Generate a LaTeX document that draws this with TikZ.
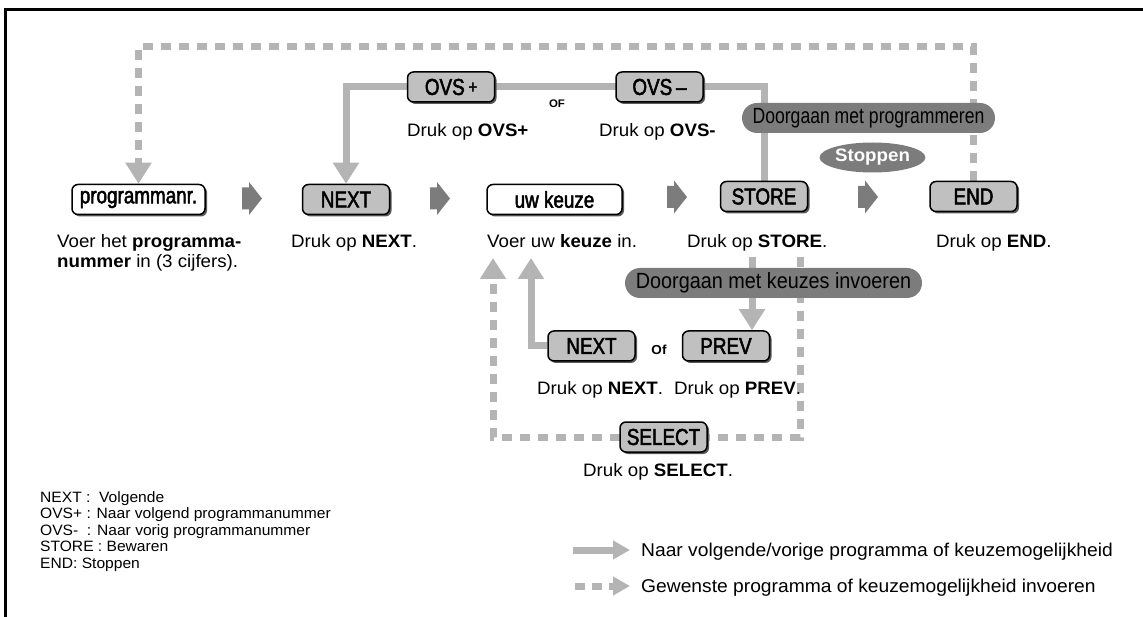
\documentclass[tikz,border=0pt]{standalone}
\usepackage{fontspec}
\setmainfont[FakeStretch=1.04]{Liberation Sans}
\newfontfamily\condfont[FakeStretch=0.82,FakeBold=2.2]{Liberation Sans}
\newfontfamily\pillAfont[FakeStretch=0.8]{Liberation Sans}
\newfontfamily\pillBfont[FakeStretch=0.9]{Liberation Sans}
\usetikzlibrary{arrows.meta,shadows,shapes.geometric,calc}
\definecolor{lgray}{HTML}{B4B4B4}
\definecolor{kgray}{HTML}{C0C0C0}
\definecolor{dgray}{HTML}{7C7C7C}
\pgfdeclarelayer{bg}
\pgfsetlayers{bg,main}
\begin{document}
\begin{tikzpicture}[x=1pt,y=-1pt,
 key/.style={draw=black, line width=1.5pt, rounded corners=6pt, fill=kgray, minimum width=87pt, minimum height=30pt, inner sep=0pt, font=\condfont\fontsize{23}{24}\selectfont, drop shadow={shadow xshift=2pt, shadow yshift=-2pt, fill=black!65, opacity=1}},
 wkey/.style={key, fill=white},
 pill/.style={fill=dgray, rounded corners=15pt, minimum height=30pt, inner sep=0pt},
 desc/.style={anchor=base west, inner sep=0pt, font=\fontsize{18}{20}\selectfont},
 legl/.style={anchor=base west, inner sep=0pt, font=\fontsize{15}{16}\selectfont},
 legr/.style={anchor=base west, inner sep=0pt, font=\fontsize{18.5}{20}\selectfont},
 sline/.style={draw=lgray, line width=7pt},
 dline/.style={draw=lgray, line width=7pt, dash pattern=on 10pt off 8pt},
 tip/.style={-{Triangle[width=25pt,length=21pt]}},
 ltip/.style={-{Triangle[width=18pt,length=17pt]}},
 chev/.pic={\fill[dgray] (-10,-11) -- (-3,-11) -- (-3,-16.5) -- (10,0) -- (-3,16.5) -- (-3,11) -- (-10,11) -- cycle;}
]
\useasboundingbox (0,0) rectangle (1143,617);
\draw[line width=2.7pt] (5.5,617) -- (5.5,9.5) -- (1143,9.5);

% main row
\node[wkey, minimum width=133pt] (prog) at (138.5,199.5) {programmanr.};
\node[key] (next) at (346,199.5) {NEXT};
\node[wkey, minimum width=135pt] (keuze) at (554.5,199.5) {uw keuze};
\node[key] (store) at (764,196.5) {STORE};
\node[key] (end) at (973.5,196.5) {END};
\pic at (252,198.5) {chev};
\pic at (440,198.5) {chev};
\pic at (677,197) {chev};
\pic at (868,197) {chev};

% OVS row
\node[key] (ovsp) at (451,87) {OVS\,{\fontsize{18}{18}\selectfont\raisebox{2pt}{+}}};
\node[key] (ovsm) at (659.5,87) {OVS\,–};
\node[inner sep=0pt, font=\bfseries\fontsize{11}{12}\selectfont] (of1) at (557,104) {OF};

% lower
\node[key] (nextb) at (591.5,346) {NEXT};
\node[key] (prevb) at (726,346) {PREV};
\node[inner sep=0pt, font=\bfseries\fontsize{13}{14}\selectfont] (of2) at (659,350) {Of};
\node[key] (select) at (663.5,437) {SELECT};

% pills
\node[pill, minimum width=253pt, font=\pillAfont\fontsize{22}{23}\selectfont] (pillA) at (868.5,118) {Doorgaan met programmeren};
\node[pill, minimum width=297pt, font=\pillBfont\fontsize{22}{23}\selectfont] (pillB) at (773.5,283) {Doorgaan met keuzes invoeren};
\node[ellipse, fill=dgray, minimum width=90pt, minimum height=30pt, inner sep=0pt, text=white, font=\bfseries\fontsize{18}{19}\selectfont] (stop) at (872.5,157.5) {Stoppen};

% descriptions
\node[desc] (d1a) at (57,248) {Voer het \textbf{programma-}};
\node[desc] (d1b) at (57,268) {\textbf{nummer} in (3 cijfers).};
\node[desc] (d2) at (291,248) {Druk op \textbf{NEXT}.};
\node[desc] (d3) at (487,248) {Voer uw \textbf{keuze} in.};
\node[desc] (d4) at (687,248) {Druk op \textbf{STORE}.};
\node[desc] (d5) at (936,248) {Druk op \textbf{END}.};
\node[desc] (d6) at (407,137) {Druk op \textbf{OVS+}};
\node[desc] (d7) at (599,137) {Druk op \textbf{OVS-}};
\node[desc] (d8) at (537,395) {Druk op \textbf{NEXT}.};
\node[desc] (d9) at (674,395) {Druk op \textbf{PREV}.};
\node[desc] (d10) at (583,476) {Druk op \textbf{SELECT}.};

% legend left
\node[legl] (l1) at (40,502) {NEXT :\ \ Volgende};
\node[legl] (l2) at (40,518) {OVS+ : Naar volgend programmanummer};
\node[legl] (l3) at (40,535) {OVS-\ \ : Naar vorig programmanummer};
\node[legl] (l4) at (40,551) {STORE : Bewaren};
\node[legl] (l5) at (40,568) {END: Stoppen};

% legend right
\node[legr] (r1) at (641,556) {Naar volgende/vorige programma of keuzemogelijkheid};
\node[legr] (r2) at (641,592) {Gewenste programma of keuzemogelijkheid invoeren};
\coordinate (ra1) at (573,550);
\coordinate (ra2) at (575,586);

% free ends
\coordinate (looptop) at (500,47);
\coordinate (sd) at (752,257);
\coordinate (dd) at (800,257);
\coordinate (du) at (493,258);
\coordinate (su) at (531,258);

\begin{pgfonlayer}{bg}
\draw[dline, tip] (end.north) |- (looptop) -| (prog.north);
\draw[sline, tip] (store.north) |- (ovsm.east) -- (ovsp.west) -| (next.north);
\draw[sline, tip] (sd) -- (sd |- prevb.north);
\draw[dline, tip] (dd) |- (select.east) -- (select.west) -| (du);
\draw[sline, tip] (nextb.west) -| (su);
\draw[sline, ltip] (ra1) -- ([xshift=-11pt]r1.west |- ra1);
\draw[dline, dash pattern=on 10pt off 7pt, ltip] (ra2) -- ([xshift=-11pt]r2.west |- ra2);
\end{pgfonlayer}
\end{tikzpicture}
\end{document}
